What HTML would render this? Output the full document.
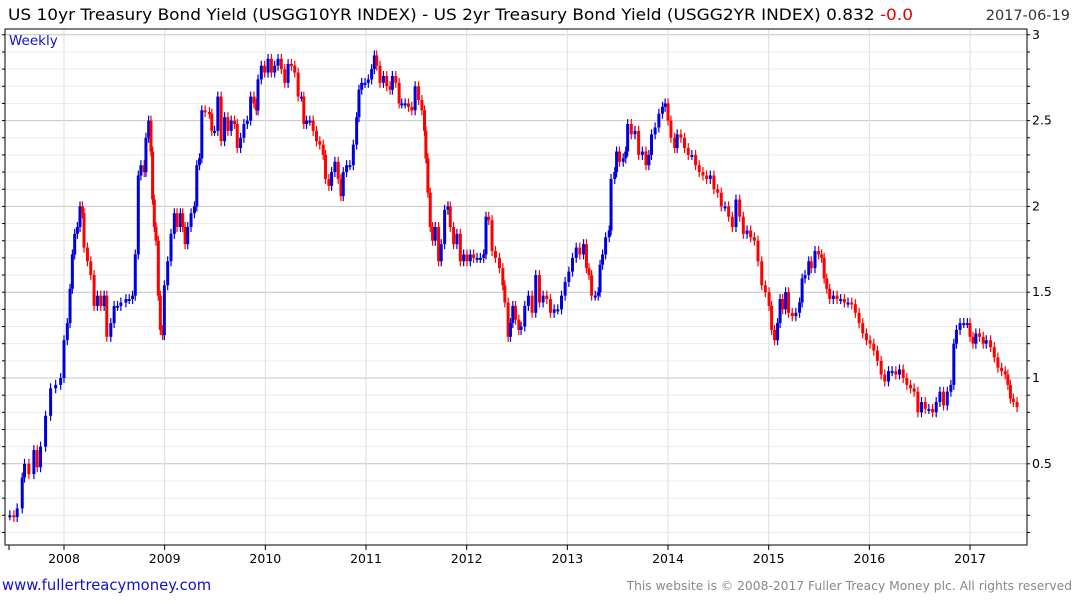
<!DOCTYPE html>
<html><head><meta charset="utf-8">
<style>
html,body{margin:0;padding:0;background:#fff;}
body{width:1075px;height:600px;overflow:hidden;font-family:"DejaVu Sans","Liberation Sans",sans-serif;}
svg text{font-family:"DejaVu Sans","Liberation Sans",sans-serif;}
</style></head>
<body>
<svg id="chart" width="1075" height="600" xmlns="http://www.w3.org/2000/svg">
  <text x="8" y="20" font-size="16" textLength="905" lengthAdjust="spacingAndGlyphs" fill="#000">US 10yr Treasury Bond Yield (USGG10YR INDEX) - US 2yr Treasury Bond Yield (USGG2YR INDEX) 0.832 <tspan fill="#e00000">-0.0</tspan></text>
  <text x="1070" y="20" font-size="14.5" fill="#333" text-anchor="end">2017-06-19</text>
  <g id="grid"></g>
  <g id="bars"></g>
  <g id="axes"></g>
  <text x="9" y="45" font-size="13.5" fill="#1010d0">Weekly</text>
  <text x="2" y="590" font-size="14.8" fill="#1010d0">www.fullertreacymoney.com</text>
  <text x="1072" y="590" font-size="12.3" fill="#888" text-anchor="end">This website is © 2008-2017 Fuller Treacy Money plc. All rights reserved</text>
</svg>
<script>
const yearTicks = [2008,2009,2010,2011,2012,2013,2014,2015,2016,2017];
const yTickLabels = ["0.5","1","1.5","2","2.5","3"];
const yTickValues = [0.5,1,1.5,2,2.5,3];
const dates = [2007.462,2007.502,2007.535,2007.585,2007.608,2007.651,2007.701,2007.734,2007.767,2007.817,2007.867,2007.917,2007.967,2008.000,2008.033,2008.060,2008.083,2008.106,2008.133,2008.159,2008.183,2008.199,2008.233,2008.266,2008.299,2008.332,2008.365,2008.399,2008.425,2008.465,2008.498,2008.532,2008.565,2008.615,2008.648,2008.681,2008.708,2008.738,2008.764,2008.797,2008.814,2008.841,2008.864,2008.880,2008.897,2008.914,2008.937,2008.957,2008.980,2008.997,
2009.030,2009.063,2009.096,2009.123,2009.156,2009.179,2009.203,2009.229,2009.262,2009.296,2009.319,2009.346,2009.369,2009.402,2009.445,2009.468,2009.495,2009.528,2009.561,2009.595,2009.628,2009.661,2009.694,2009.721,2009.754,2009.787,2009.821,2009.854,2009.887,2009.910,2009.927,2009.960,2009.993,
2010.027,2010.060,2010.093,2010.126,2010.159,2010.193,2010.226,2010.259,2010.292,2010.326,2010.359,2010.382,2010.409,2010.442,2010.475,2010.508,2010.541,2010.575,2010.598,2010.631,2010.658,2010.691,2010.724,2010.751,2010.774,2010.807,2010.840,2010.874,2010.907,2010.930,2010.957,2010.990,
2011.023,2011.056,2011.083,2011.106,2011.139,2011.173,2011.206,2011.239,2011.262,2011.296,2011.329,2011.355,2011.389,2011.422,2011.455,2011.488,2011.522,2011.555,2011.581,2011.595,2011.615,2011.638,2011.661,2011.688,2011.721,2011.747,2011.781,2011.814,2011.837,2011.870,2011.903,2011.937,2011.970,
2012.003,2012.036,2012.069,2012.103,2012.136,2012.169,2012.192,2012.219,2012.252,2012.286,2012.326,2012.359,2012.379,2012.412,2012.435,2012.458,2012.485,2012.518,2012.540,2012.577,2012.613,2012.650,2012.686,2012.723,2012.759,2012.796,2012.832,2012.869,2012.905,2012.942,2012.978,
2013.015,2013.051,2013.088,2013.124,2013.161,2013.190,2013.215,2013.241,2013.277,2013.307,2013.325,2013.350,2013.380,2013.416,2013.434,2013.471,2013.489,2013.518,2013.555,2013.580,2013.599,2013.635,2013.672,2013.708,2013.745,2013.781,2013.810,2013.836,2013.872,2013.909,2013.945,2013.971,
2014.000,2014.029,2014.066,2014.091,2014.128,2014.164,2014.201,2014.237,2014.274,2014.310,2014.347,2014.383,2014.420,2014.456,2014.493,2014.529,2014.566,2014.602,2014.639,2014.675,2014.712,2014.748,2014.785,2014.821,2014.858,2014.894,2014.931,2014.967,
2015.004,2015.029,2015.058,2015.088,2015.113,2015.139,2015.168,2015.197,2015.234,2015.270,2015.307,2015.332,2015.361,2015.398,2015.423,2015.460,2015.496,2015.526,2015.551,2015.577,2015.606,2015.642,2015.679,2015.715,2015.752,2015.788,2015.825,2015.861,2015.898,2015.934,2015.971,
2016.007,2016.044,2016.080,2016.117,2016.153,2016.190,2016.226,2016.263,2016.299,2016.336,2016.372,2016.409,2016.445,2016.482,2016.518,2016.555,2016.591,2016.628,2016.664,2016.701,2016.737,2016.774,2016.810,2016.839,2016.865,2016.901,2016.938,2016.974,
2017.000,2017.029,2017.058,2017.095,2017.131,2017.161,2017.204,2017.241,2017.277,2017.314,2017.350,2017.376,2017.401,2017.430,2017.467];
const closes = [0.20,0.19,0.24,0.42,0.50,0.44,0.58,0.48,0.60,0.78,0.94,0.96,1.00,1.22,1.32,1.52,1.72,1.84,1.88,2.00,1.96,1.76,1.68,1.60,1.42,1.48,1.42,1.48,1.24,1.32,1.42,1.42,1.44,1.46,1.46,1.48,1.72,2.18,2.24,2.20,2.40,2.50,2.32,2.04,1.88,1.80,1.48,1.28,1.25,1.54,
1.68,1.84,1.96,1.88,1.96,1.88,1.78,1.88,1.96,2.00,2.24,2.28,2.56,2.55,2.54,2.44,2.44,2.64,2.38,2.52,2.44,2.50,2.48,2.34,2.40,2.48,2.50,2.64,2.60,2.56,2.74,2.82,2.78,
2.86,2.78,2.82,2.86,2.80,2.72,2.83,2.82,2.78,2.64,2.64,2.48,2.50,2.50,2.44,2.38,2.36,2.30,2.16,2.12,2.20,2.26,2.16,2.06,2.20,2.24,2.24,2.36,2.52,2.68,2.72,2.72,
2.74,2.80,2.88,2.82,2.72,2.76,2.70,2.68,2.76,2.72,2.60,2.60,2.60,2.58,2.56,2.70,2.62,2.56,2.44,2.28,2.08,1.88,1.80,1.88,1.68,1.78,1.98,2.00,1.88,1.78,1.84,1.68,1.72,
1.68,1.72,1.70,1.70,1.70,1.72,1.94,1.92,1.74,1.70,1.64,1.54,1.44,1.24,1.32,1.42,1.34,1.28,1.30,1.42,1.48,1.38,1.60,1.44,1.48,1.46,1.38,1.40,1.40,1.48,1.56,
1.62,1.70,1.76,1.72,1.78,1.64,1.60,1.48,1.48,1.50,1.66,1.72,1.82,1.86,2.16,2.20,2.32,2.26,2.28,2.32,2.48,2.42,2.44,2.30,2.32,2.24,2.30,2.42,2.46,2.54,2.58,2.60,
2.50,2.40,2.34,2.42,2.40,2.34,2.30,2.30,2.24,2.20,2.18,2.16,2.18,2.10,2.08,2.00,2.00,1.94,1.88,2.04,1.94,1.84,1.86,1.82,1.80,1.68,1.54,1.50,
1.42,1.28,1.22,1.32,1.46,1.40,1.50,1.38,1.36,1.38,1.44,1.58,1.60,1.68,1.64,1.74,1.72,1.70,1.58,1.52,1.46,1.48,1.46,1.46,1.44,1.44,1.43,1.38,1.32,1.26,1.22,
1.20,1.16,1.10,1.02,0.98,1.04,1.04,1.02,1.05,1.00,0.96,0.94,0.92,0.80,0.86,0.82,0.82,0.80,0.86,0.92,0.84,0.92,0.96,1.20,1.28,1.32,1.32,1.32,
1.24,1.20,1.26,1.24,1.20,1.22,1.18,1.12,1.06,1.04,1.02,0.96,0.88,0.86,0.83];

const NS = "http://www.w3.org/2000/svg";
const L = 5, R = 1027, T = 29, B = 545;
function xScale(yr){ return 64 + (yr - 2008) * 100.67; }
function yScale(v){ return 549.6 - v * 171.6; }
function mk(tag, attrs, parent){ const e = document.createElementNS(NS, tag); for (const k in attrs) e.setAttribute(k, attrs[k]); parent.appendChild(e); return e; }

const grid = document.getElementById('grid');
const axes = document.getElementById('axes');
const barsG = document.getElementById('bars');

for (let i = 1; i <= 30; i++) {
  const v = i / 10;
  const y = yScale(v);
  if (y < T || y > B) continue;
  const major = i % 5 === 0;
  const ln = mk('line', {x1:L, x2:R, y1:y, y2:y, stroke: major ? '#c4c4c4' : '#ececec', 'stroke-width':1}, grid);
  
  
  const tk = mk('line', {x1:R, x2:R+3, y1:y, y2:y, stroke:'#000', 'stroke-width':1}, axes);
  
  
  const tl = mk('line', {x1:L-3, x2:L, y1:y, y2:y, stroke:'#000', 'stroke-width':1}, axes);
  
  
}
yearTicks.forEach(yr => {
  const x = xScale(yr);
  const ln = mk('line', {x1:x, x2:x, y1:T, y2:B, stroke:'#dedede', 'stroke-width':1}, grid);
  
  
  const tk = mk('line', {x1:x, x2:x, y1:B, y2:B+5, stroke:'#000', 'stroke-width':1}, axes);
  
  
  const t = mk('text', {x:x, y:563, 'font-size':12.5, 'text-anchor':'middle', fill:'#000'}, axes);
  t.textContent = String(yr);
  
  
});
const st = mk('line', {x1:9, x2:9, y1:B, y2:B+5, stroke:'#000', 'stroke-width':1}, axes);


yTickValues.forEach((v, i) => {
  const t = mk('text', {x:R+5, y:yScale(v)+4, 'font-size':12.5, fill:'#000'}, axes);
  t.textContent = yTickLabels[i];
  
  
});
const fr = mk('rect', {x:L, y:T, width:R-L, height:B-T, fill:'none', stroke:'#000', 'stroke-width':1}, axes);



for (let i = 0; i < closes.length; i++) {
  const c = closes[i];
  const o = i > 0 ? closes[i-1] : c;
  const up = c >= o;
  const col = up ? '#0000dd' : '#ff0000';
  const x = xScale(dates[i]);
  const yTop = yScale(Math.max(o, c)), yBot = yScale(Math.min(o, c));
  const w = mk('line', {x1:x, x2:x, y1:yTop-5, y2:yBot+5, stroke:col, 'stroke-width':1.2}, barsG);
  
  
  const b = mk('rect', {x:x-1.5, y:yTop, width:3, height:Math.max(2, yBot-yTop), fill:col}, barsG);
  
  
}
</script>
</body></html>
